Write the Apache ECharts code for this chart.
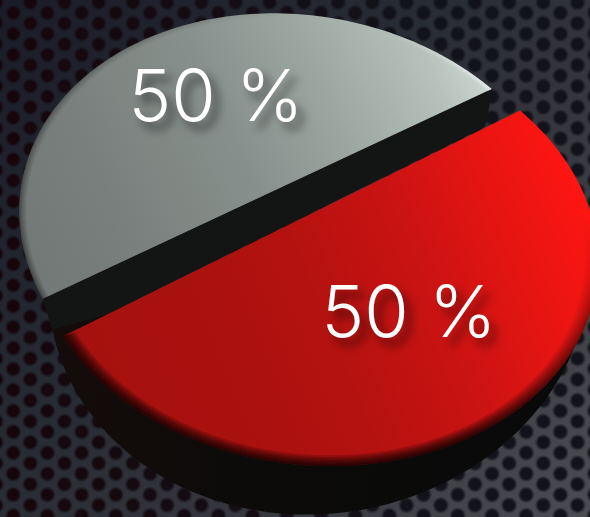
<!doctype html>
<html><head><meta charset="utf-8">
<style>html,body{margin:0;padding:0;background:#1a1a22}#chart{width:590px;height:517px}</style>
<script src="https://cdn.jsdelivr.net/npm/echarts@6/dist/echarts.min.js"></script>
</head><body><div id="chart"></div>
<script>
// Data
const sliceNames = ['Gray', 'Red'];
const sliceValues = [50, 50];
const labelSuffix = ' %';

// Tilted disc outlines: x = cx + a cos s, y = cy + e cos(s - tilt).
// s0 and s1 are the outline angles where the slice cut meets the rim.
const rad = d => d * Math.PI / 180;
const outlines = {
  Gray: { cx: 296, cy: 228.2, a: 276.6, e: 214.9, tilt: 85.4, s0: -45, s1: 156.2 },
  Red: { cx: 315.8, cy: 250.7, a: 282.4, e: 215.4, tilt: 86.9, s0: -43.7, s1: 153.5 },
  Base: { cx: 319.1, cy: 278.5, a: 270.8, e: 236.1, tilt: 92.5, s0: -20, s1: 170 }
};
const labelPos = { Gray: [216, 99], Red: [409, 315] };
const total = sliceValues.reduce((s, v) => s + v, 0);
const startTheta = Math.PI;  // first slice begins at the lower-left end of the cut

// Point on an outline for a pie angle t (0..2PI); inset pulls it towards the centre.
function rimAt(o, t, inset) {
  const s = t <= Math.PI
    ? o.s0 + (o.s1 - o.s0) * t / Math.PI
    : o.s1 + (o.s0 + 360 - o.s1) * (t - Math.PI) / Math.PI;
  const k = 1 - (inset || 0);
  return [o.cx + k * o.a * Math.cos(rad(s)), o.cy + k * o.e * Math.cos(rad(s - o.tilt))];
}
function arcPoints(o, from, sweep, inset) {
  const pts = [], n = 120;
  const base = ((from % (2 * Math.PI)) + 2 * Math.PI) % (2 * Math.PI);
  for (let i = 0; i <= n; i++) pts.push(rimAt(o, base + sweep * i / n, inset));
  return pts;
}
function grad(x1, y1, x2, y2, stops) {
  return new echarts.graphic.LinearGradient(x1, y1, x2, y2,
    stops.map(([offset, color]) => ({ offset, color })), true);
}
// Soft rim shading: overlapping bands, bunched towards the edge so the falloff stays smooth.
function rimBands(o, from, sweep, fill, widest) {
  const out = [], steps = 10;
  for (let i = 1; i <= steps; i++) {
    const outer = arcPoints(o, from, sweep, 0);
    const inner = arcPoints(o, from, sweep, widest * Math.pow(i / steps, 1.6)).reverse();
    out.push({ type: 'polygon', shape: { points: outer.concat(inner) }, style: { fill }, silent: true });
  }
  return out;
}

const fills = {
  Gray: () => grad(492, 85, 30, 300, [[0, '#cdd8d3'], [0.1, '#b6c1bc'], [0.3, '#9da7a2'], [0.5, '#87908c'], [0.8, '#787e7b'], [1, '#727875']]),
  Red: () => grad(590, 200, 100, 400, [[0, '#ff1511'], [0.15, '#e81512'], [0.35, '#c91312'], [0.55, '#b41210'], [0.75, '#aa110f'], [1, '#a5110e']])
};

function renderSlice(params, api) {
  const i = params.dataIndex, value = api.value(0), name = sliceNames[i];
  let before = 0;
  for (let j = 0; j < i; j++) before += sliceValues[j];
  const from = startTheta + 2 * Math.PI * before / total;
  const sweep = 2 * Math.PI * value / total;
  const o = outlines[name];
  const children = [];

  if (name === 'Gray') {
    // cut face standing between the two separated slices
    const left = rimAt(o, Math.PI), right = rimAt(o, 2 * Math.PI);
    const redLeft = rimAt(outlines.Red, Math.PI);
    children.push({
      type: 'polygon', silent: true, style: { fill: '#121513' },
      shape: { points: [left, right, [right[0] - 4, right[1] + 29], [right[0] - 7, right[1] + 38], redLeft, [left[0] + 9, left[1] + 31]] }
    });
  } else {
    // side wall of the disc under the front slice
    const b = outlines.Base;
    children.push({
      type: 'polygon', silent: true, shape: { points: arcPoints(b, from, sweep) },
      style: { fill: grad(60, 400, 590, 400, [[0, '#140c0a'], [0.35, '#0c0b0a'], [1, '#090909']]) }
    });
  }

  // top face
  children.push({ type: 'polygon', silent: true, shape: { points: arcPoints(o, from, sweep) }, style: { fill: fills[name]() } });

  // rim shading
  if (name === 'Red') {
    children.push(...rimBands(o, from, sweep, grad(590, 220, 400, 470, [[0, 'rgba(20,0,0,0)'], [0.35, 'rgba(20,0,0,0.09)'], [0.8, 'rgba(20,0,0,0.2)'], [1, 'rgba(20,0,0,0.2)']]), 0.05));
  } else {
    children.push(...rimBands(o, from, sweep, grad(30, 250, 300, 10, [[0, 'rgba(0,0,0,0.06)'], [1, 'rgba(0,0,0,0)']]), 0.025));
    children.push(...rimBands(o, from, sweep, grad(390, 30, 490, 85, [[0, 'rgba(255,255,255,0)'], [1, 'rgba(255,255,255,0.09)']]), 0.02));
  }

  // value label
  children.push({
    type: 'text', silent: true, z2: 10,
    style: {
      text: value + labelSuffix, x: labelPos[name][0], y: labelPos[name][1],
      fill: '#ffffff', fontFamily: 'Inter', fontWeight: 300, fontSize: 72,
      textAlign: 'center', textVerticalAlign: 'middle',
      textShadowColor: 'rgba(0,0,0,0.55)', textShadowBlur: 10, textShadowOffsetX: 7, textShadowOffsetY: 8
    }
  });
  return { type: 'group', children };
}

// Perforated metal backdrop
function backdrop() {
  const W = 590, H = 517, c = document.createElement('canvas');
  c.width = W; c.height = H;
  const x = c.getContext('2d');
  const g = x.createLinearGradient(0, 0, W, H);
  g.addColorStop(0, '#1a1c28'); g.addColorStop(0.42, '#282c34'); g.addColorStop(0.58, '#32333a'); g.addColorStop(1, '#4b4c51');
  x.fillStyle = g; x.fillRect(0, 0, W, H);
  const dx = 17.1, dy = 20.95, ax = 543.3, ay = 463.3, r = 8.6;
  for (let col = -33; col <= 4; col++) {
    for (let row = -24; row <= 4; row++) {
      const px = ax + col * dx, py = ay + row * dy + (col & 1 ? dy / 2 : 0);
      const warm = Math.max(0, 1 - px / 420);
      const core = `rgb(${18 + warm * 4},${18 - warm * 12},${26 - warm * 14})`;
      const hole = x.createRadialGradient(px, py, 0, px, py, r);
      hole.addColorStop(0, core); hole.addColorStop(0.6, core); hole.addColorStop(1, 'rgba(22,22,30,0)');
      x.fillStyle = hole;
      x.beginPath(); x.arc(px, py, r, 0, 2 * Math.PI); x.fill();
    }
  }
  return c;
}

const chart = echarts.init(document.getElementById('chart'), null, { renderer: 'canvas' });
chart.setOption({
  animation: false,
  graphic: { elements: [{ type: 'image', silent: true, z: 0, style: { image: backdrop(), x: 0, y: 0, width: 590, height: 517 } }] },
  series: [{
    type: 'custom', coordinateSystem: 'none', z: 5, silent: true,
    renderItem: renderSlice,
    data: sliceValues.map(v => [v])
  }]
});
</script></body></html>
